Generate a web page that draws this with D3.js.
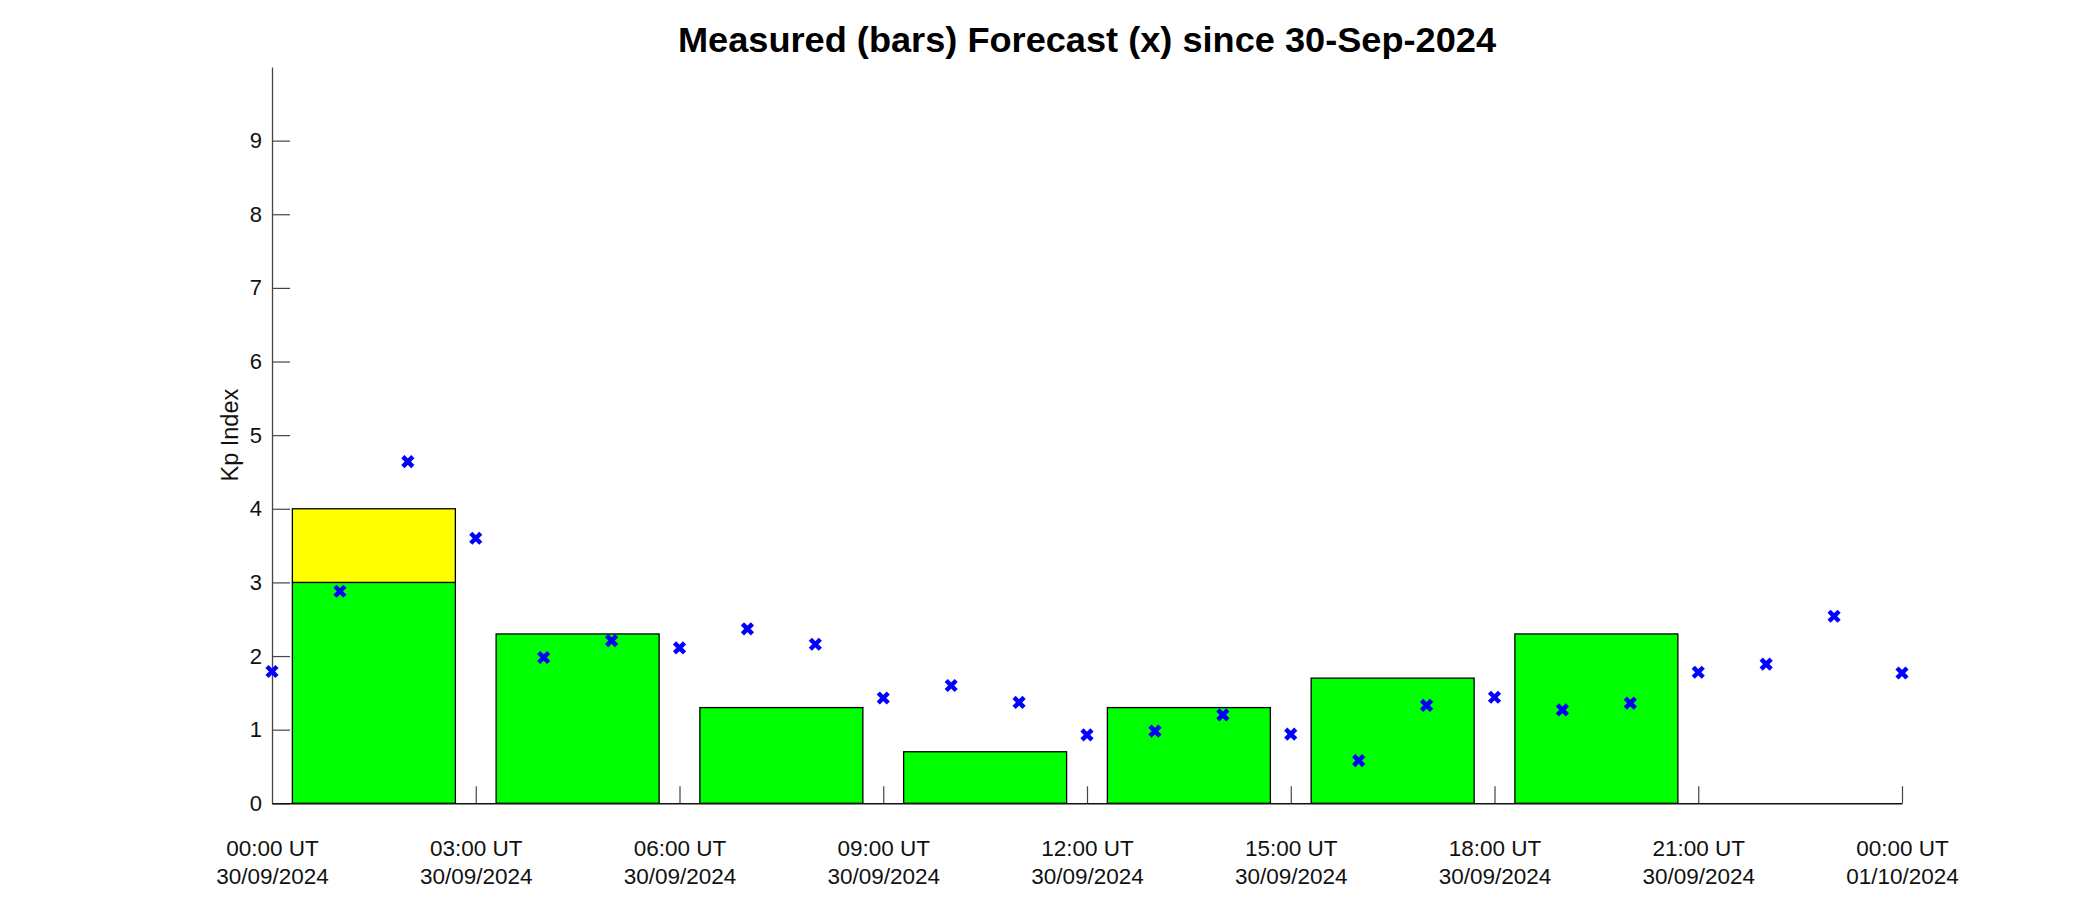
<!DOCTYPE html>
<html>
<head>
<meta charset="utf-8">
<script src="https://cdn.jsdelivr.net/npm/d3@7"></script>
<style>
  html, body { margin: 0; padding: 0; background: #fff; }
  svg { display: block; font-family: "Liberation Sans", Arial, Helvetica, sans-serif; }
</style>
</head>
<body>
<svg id="chart" width="2100" height="900"></svg>
<script>
// ---- data ----
const titleText = "Measured (bars) Forecast (x) since 30-Sep-2024";
const yLabel = "Kp Index";
// measured Kp, 3-hour intervals starting at these hours
const measuredStart = [0, 3, 6, 9, 12, 15, 18, 21];
const measuredKp = [4.0, 2.3, 1.3, 0.7, 1.3, 1.7, 2.3, 0.0];
// hourly forecast
const forecastHour = [0,1,2,3,4,5,6,7,8,9,10,11,12,13,14,15,16,17,18,19,20,21,22,23,24];
const forecastKp = [1.79, 2.88, 4.64, 3.60, 1.98, 2.21, 2.11, 2.37, 2.16, 1.43, 1.60, 1.37, 0.93,
                    0.98, 1.20, 0.94, 0.58, 1.33, 1.44, 1.27, 1.36, 1.78, 1.89, 2.54, 1.77];
// activity level bands (Kp boundaries)
const levelBounds = [0, 3, 4, 5, 9];
const levelNames = ["quiet", "unsettled", "active", "storm"];
// axis ticks
const xTickHours = [0, 3, 6, 9, 12, 15, 18, 21, 24];
const xTickTime = ["00:00 UT", "03:00 UT", "06:00 UT", "09:00 UT", "12:00 UT", "15:00 UT", "18:00 UT", "21:00 UT", "00:00 UT"];
const xTickDate = ["30/09/2024", "30/09/2024", "30/09/2024", "30/09/2024", "30/09/2024", "30/09/2024", "30/09/2024", "30/09/2024", "01/10/2024"];
const yTicks = [0, 1, 2, 3, 4, 5, 6, 7, 8, 9];

// ---- styles ----
const levelColors = { quiet: "#00ff00", unsettled: "#ffff00", active: "#ffff00", storm: "#ff0000" };
const barInterval = 3;
const barFrac = 0.8;

const svg = d3.select("#chart");
const mLeft = 272, mRight = 1902, mTop = 67, mBottom = 803.3;

const x = d3.scaleLinear().domain([0, 24]).range([mLeft, mRight]);
const y = d3.scaleLinear().domain([0, 10]).range([mBottom, mTop]);

// title
svg.append("text")
  .attr("x", 1087).attr("y", 52)
  .attr("text-anchor", "middle")
  .attr("font-size", 35).attr("font-weight", "bold")
  .attr("textLength", 818).attr("lengthAdjust", "spacingAndGlyphs")
  .text(titleText);

// bars
const segs = [];
measuredStart.forEach((h, i) => {
  const v = measuredKp[i];
  const x0 = h + barInterval * (1 - barFrac) / 2;
  const x1 = h + barInterval * (1 + barFrac) / 2;
  if (v <= 0) {
    segs.push({ x0, x1, y0: 0, y1: 0, name: "quiet" });
    return;
  }
  for (let k = 0; k < levelNames.length; k++) {
    const lo = levelBounds[k], hi = levelBounds[k + 1];
    if (v > lo) segs.push({ x0, x1, y0: lo, y1: Math.min(v, hi), name: levelNames[k] });
  }
});
svg.append("g").selectAll("rect").data(segs).join("rect")
  .attr("x", d => x(d.x0))
  .attr("y", d => y(d.y1))
  .attr("width", d => x(d.x1) - x(d.x0))
  .attr("height", d => y(d.y0) - y(d.y1))
  .attr("fill", d => levelColors[d.name])
  .attr("stroke", "#000").attr("stroke-width", 1.3);

// axes
const yAxis = d3.axisLeft(y).tickValues(yTicks).tickFormat(d3.format("d"))
  .tickSizeInner(-18).tickSizeOuter(0).tickPadding(10);
const gy = svg.append("g").attr("transform", `translate(${mLeft},0)`).call(yAxis);
gy.select(".domain").attr("stroke", "#444").attr("stroke-width", 1.3);
gy.selectAll(".tick line").attr("stroke", "#444").attr("stroke-width", 1.2);
gy.selectAll(".tick text").attr("font-size", 22).attr("fill", "#111")
  .attr("font-family", "Liberation Sans, Arial, sans-serif");

const xAxis = d3.axisBottom(x).tickValues(xTickHours).tickFormat(() => "")
  .tickSizeInner(-17).tickSizeOuter(0);
const gx = svg.append("g").attr("transform", `translate(0,${mBottom})`).call(xAxis);
gx.select(".domain").attr("stroke", "#111").attr("stroke-width", 1.6);
gx.selectAll(".tick line").attr("stroke", "#444").attr("stroke-width", 1.2);
gx.selectAll(".tick").filter(d => d === 0).select("line").remove();
gx.selectAll(".tick text").remove();
const lbl = gx.selectAll(".tick").append("text")
  .attr("text-anchor", "middle").attr("font-size", 22.5).attr("fill", "#111")
  .attr("font-family", "Liberation Sans, Arial, sans-serif");
lbl.append("tspan").attr("x", 0).attr("y", 53).text(d => xTickTime[xTickHours.indexOf(d)]);
lbl.append("tspan").attr("x", 0).attr("y", 81).text(d => xTickDate[xTickHours.indexOf(d)]);

// y label
svg.append("text")
  .attr("transform", `translate(238,${(mTop + mBottom) / 2}) rotate(-90)`)
  .attr("text-anchor", "middle")
  .attr("font-size", 23.5).attr("fill", "#111")
  .text(yLabel);

// forecast markers
const r = 5;
svg.append("g").selectAll("path").data(forecastHour).join("path")
  .attr("d", (h, i) => {
    const cx = x(h), cy = y(forecastKp[i]);
    return `M${cx - r},${cy - r}L${cx + r},${cy + r}M${cx - r},${cy + r}L${cx + r},${cy - r}`;
  })
  .attr("stroke", "#0000ff").attr("stroke-width", 4.5).attr("fill", "none");
</script>
</body>
</html>
